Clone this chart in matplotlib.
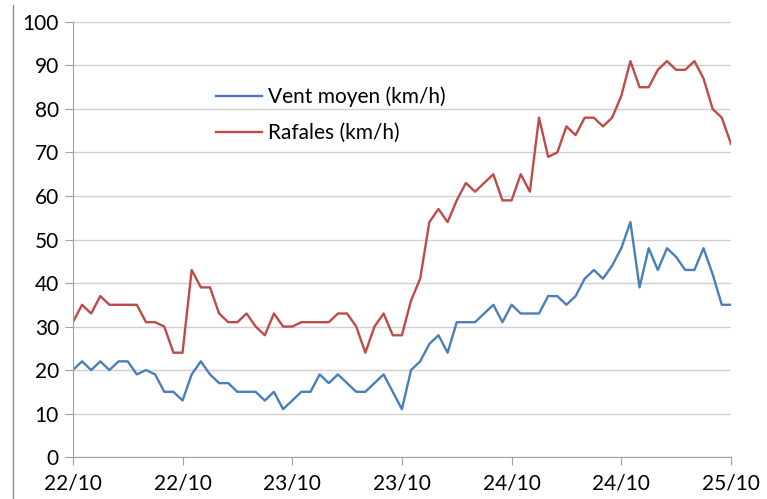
import matplotlib.pyplot as plt
from matplotlib.lines import Line2D

plt.rcParams['font.family'] = ['Lato', 'DejaVu Sans']

# hourly readings, 22/10 -> 25/10
vent_moyen = [20, 22, 20, 22, 20, 22, 22, 19, 20, 19, 15, 15, 13,
              19, 22, 19, 17, 17, 15, 15, 15, 13, 15, 11, 13,
              15, 15, 19, 17, 19, 17, 15, 15, 17, 19, 15, 11,
              20, 22, 26, 28, 24, 31, 31, 31, 33, 35, 31, 35,
              33, 33, 33, 37, 37, 35, 37, 41, 43, 41, 44, 48,
              54, 39, 48, 43, 48, 46, 43, 43, 48, 42, 35, 35]
rafales = [31, 35, 33, 37, 35, 35, 35, 35, 31, 31, 30, 24, 24,
           43, 39, 39, 33, 31, 31, 33, 30, 28, 33, 30, 30,
           31, 31, 31, 31, 33, 33, 30, 24, 30, 33, 28, 28,
           36, 41, 54, 57, 54, 59, 63, 61, 63, 65, 59, 59,
           65, 61, 78, 69, 70, 76, 74, 78, 78, 76, 78, 83,
           91, 85, 85, 89, 91, 89, 89, 91, 87, 80, 78, 72]
tick_labels = ["22/10", "22/10", "23/10", "23/10", "24/10", "24/10", "25/10"]

hours = list(range(len(rafales)))

fig = plt.figure(figsize=(7.67, 4.99), dpi=100)
ax = fig.add_axes([0.095, 0.084, 0.858, 0.872])

ax.plot(hours, vent_moyen, color="#4a7ebb", lw=1.7, label="Vent moyen (km/h)")
ax.plot(hours, rafales, color="#be4b48", lw=1.7, label="Rafales (km/h)")

ax.set_xlim(0, 72)
ax.set_ylim(0, 100)
ax.set_yticks(range(0, 101, 10))
ax.set_xticks(range(0, 73, 12))
ax.set_xticklabels(tick_labels)
ax.grid(axis="y", color="#d0d0d0", lw=1)
ax.set_axisbelow(True)

for s in ["top", "right"]:
    ax.spines[s].set_visible(False)
for s in ["left", "bottom"]:
    ax.spines[s].set_color("#a0a0a0")
ax.tick_params(axis="both", colors="#a0a0a0", labelcolor="black",
               labelsize=15, length=6, direction="out")
ax.tick_params(axis="x", pad=6)
ax.tick_params(axis="y", pad=4)

ax.legend(loc="upper left", bbox_to_anchor=(0.189, 0.894), frameon=False,
          fontsize=15, handlelength=2.2, handletextpad=0.3, labelspacing=0.75)

# screenshot border
fig.add_artist(Line2D([13 / 767, 13 / 767], [0, 0.99], color="#909090", lw=1))

fig.savefig("out.png", dpi=100)
